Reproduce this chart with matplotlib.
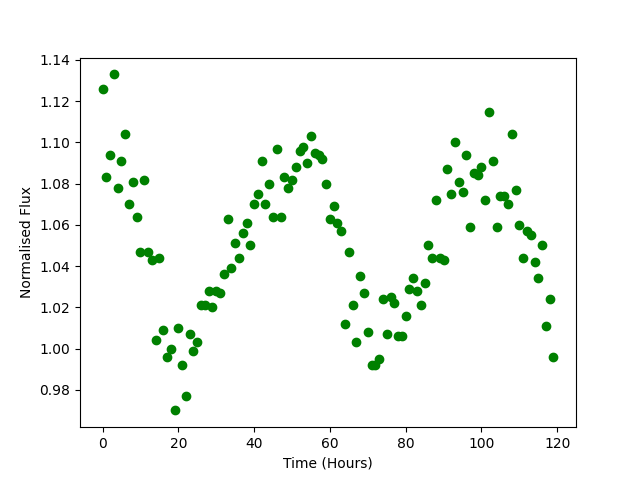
import numpy as np
import matplotlib
matplotlib.use("Agg")
import matplotlib.pyplot as plt

# hourly samples, 0..119
hours = np.arange(120)

flux = [
    1.126, 1.083, 1.094, 1.133, 1.078, 1.091, 1.104, 1.070, 1.081, 1.064,
    1.047, 1.082, 1.047, 1.043, 1.004, 1.044, 1.009, 0.996, 1.000, 0.970,
    1.010, 0.992, 0.977, 1.007, 0.999, 1.003, 1.021, 1.021, 1.028, 1.020,
    1.028, 1.027, 1.036, 1.063, 1.039, 1.051, 1.044, 1.056, 1.061, 1.050,
    1.070, 1.075, 1.091, 1.070, 1.080, 1.064, 1.097, 1.064, 1.083, 1.078,
    1.082, 1.088, 1.096, 1.098, 1.090, 1.103, 1.095, 1.094, 1.092, 1.080,
    1.063, 1.069, 1.061, 1.057, 1.012, 1.047, 1.021, 1.003, 1.035, 1.027,
    1.008, 0.992, 0.992, 0.995, 1.024, 1.007, 1.025, 1.022, 1.006, 1.006,
    1.016, 1.029, 1.034, 1.028, 1.021, 1.032, 1.050, 1.044, 1.072, 1.044,
    1.043, 1.087, 1.075, 1.100, 1.081, 1.076, 1.094, 1.059, 1.085, 1.084,
    1.088, 1.072, 1.115, 1.091, 1.059, 1.074, 1.074, 1.070, 1.104, 1.077,
    1.060, 1.044, 1.057, 1.055, 1.042, 1.034, 1.050, 1.011, 1.024, 0.996,
]

plt.figure(figsize=(6.4, 4.8), dpi=100)
plt.plot(hours, flux, 'o', color='green')
plt.xlabel("Time (Hours)")
plt.ylabel("Normalised Flux")
plt.savefig("out.png", dpi=100)
